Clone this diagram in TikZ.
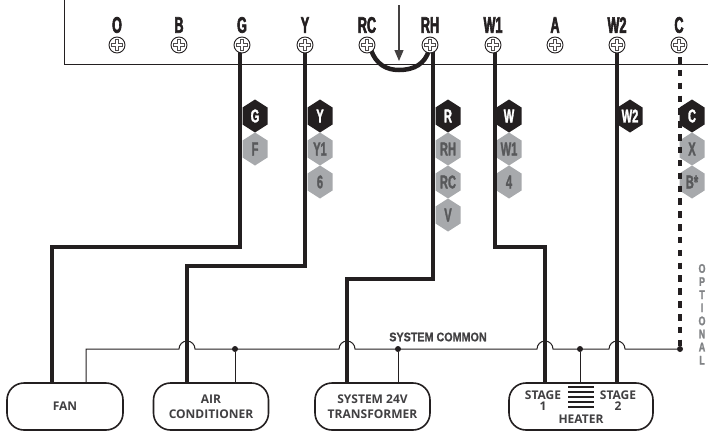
\documentclass[tikz,border=0pt]{standalone}
\usepackage{fontspec}
\usetikzlibrary{arrows.meta}
\newfontfamily\condfont[FakeStretch=0.56,FakeBold=2.5]{Liberation Sans Bold}
\newfontfamily\hexfont[FakeStretch=0.6,FakeBold=1.5]{Liberation Sans Bold}
\newfontfamily\midfont[FakeStretch=0.86,FakeBold=1]{Liberation Sans Bold}
\newfontfamily\optfont[FakeStretch=0.72,FakeBold=1.5]{Liberation Sans Bold}
\newfontfamily\boxfont{Open Sans}
\definecolor{ink}{HTML}{231F20}
\definecolor{hexgrey}{HTML}{A7A9AC}
\definecolor{hextext}{HTML}{58595B}
\definecolor{boxtext}{HTML}{414042}
\definecolor{opttext}{HTML}{808285}
\tikzset{
  x=1pt,y=-1pt,
  term/.style={font=\condfont\fontsize{22.5}{22.5}\selectfont,text=ink,inner sep=0pt},
  screw/.style={circle,draw=ink,fill=white,line width=0.9pt,minimum size=16pt,inner sep=0pt},
  wire/.style={draw=ink,line width=4pt},
  thinw/.style={draw=ink,line width=1pt},
  hexb/.style={font=\hexfont\fontsize{18.5}{18.5}\selectfont,text=white,inner sep=0pt},
  hexg/.style={font=\hexfont\fontsize{18.5}{18.5}\selectfont,text=hextext,inner sep=0pt},
  unit/.style={draw=ink,line width=1.6pt,fill=white,rounded corners=17pt,inner sep=0pt,
     align=center,text=boxtext,font=\boxfont\bfseries\fontsize{12}{15}\selectfont},
  lab/.style={text=boxtext,inner sep=0pt,font=\boxfont\bfseries\fontsize{12}{12}\selectfont},
  dotn/.style={circle,fill=ink,inner sep=0pt,minimum size=6pt},
  opt/.style={font=\optfont\fontsize{12.5}{12.5}\selectfont,text=opttext,inner sep=0pt},
}
\newcommand{\hexshape}[3]{\fill[#3] (#1,#2-16.5) -- (#1+12.5,#2-8.5) -- (#1+12.5,#2+8.5) -- (#1,#2+16.5) -- (#1-12.5,#2+8.5) -- (#1-12.5,#2-8.5) -- cycle;}
\newcommand{\termn}[3]{%
  \node[term] (t#1) at (#2,25) {#3};
  \node[screw] (s#1) at (#2,45) {};
  \draw[draw=ink!80,line width=0.5pt] (#2-1.5,45-5.5) -- (#2+1.5,45-5.5) -- (#2+1.5,45-1.5) -- (#2+5.5,45-1.5) -- (#2+5.5,45+1.5) -- (#2+1.5,45+1.5) -- (#2+1.5,45+5.5) -- (#2-1.5,45+5.5) -- (#2-1.5,45+1.5) -- (#2-5.5,45+1.5) -- (#2-5.5,45-1.5) -- (#2-1.5,45-1.5) -- cycle;}
\newcommand{\hexb}[4]{\hexshape{#2}{#3}{ink}\node[hexb] (#1) at (#2,#3) {#4};}
\newcommand{\hexg}[4]{\hexshape{#2}{#3}{hexgrey}\node[hexg] (#1) at (#2,#3) {#4};}
\begin{document}
\begin{tikzpicture}
\useasboundingbox (0,0) rectangle (708,431);
% thermostat outline
\coordinate (tl) at (64,0);
\coordinate (bl) at (64,64);
\coordinate (br) at (708,64);
\draw[draw=ink,line width=1pt] (tl) -- (bl) -- (br);
% hexagons
\hexb{hg}{255}{116}{G}
\hexg{hf}{255}{149}{F}
\hexb{hy}{320}{116}{Y}
\hexg{hya}{320}{149}{Y1}
\hexg{hsix}{320}{182}{6}
\hexb{hr}{448}{116}{R}
\hexg{hrh}{448}{149}{RH}
\hexg{hrc}{448}{182}{RC}
\hexg{hv}{448}{215}{V}
\hexb{hw}{509}{116}{W}
\hexg{hwa}{509}{149}{W1}
\hexg{hfour}{509}{182}{4}
\hexb{hwb}{630}{116}{W2}
\hexb{hc}{692}{116}{C}
\hexg{hx}{692}{149}{X}
\hexg{hbs}{692}{182}{B*}
% units
\node[unit,minimum width=116pt,minimum height=47pt] (fan) at (65,406.5) {FAN};
\node[unit,minimum width=115pt,minimum height=47pt] (ac) at (211,406.5) {AIR\\CONDITIONER};
\node[unit,minimum width=115pt,minimum height=47pt] (tr) at (372.5,406.5) {SYSTEM 24V\\TRANSFORMER};
\node[unit,minimum width=144pt,minimum height=47pt] (ht) at (581,406.5) {};
\node[lab] (st1) at (543,395) {STAGE};
\node[lab] (st1n) at (543,406) {1};
\node[lab] (st2) at (618,395) {STAGE};
\node[lab] (st2n) at (618,406) {2};
\node[lab] (htl) at (581,419) {HEATER};
\foreach \yy in {387,392,397,402,407} \draw[draw=ink,line width=1.4pt] (568,\yy) -- (594,\yy);
% common line
\node[dotn] (d1) at (235,349) {};
\node[dotn] (d2) at (398,349) {};
\node[dotn] (d3) at (580,349) {};
\node[dotn] (d4) at (680,349) {};
\draw[thinw] (86,383) -- (86,349) -- (179,349) arc[start angle=180,end angle=360,radius=8] -- (339,349)
   arc[start angle=180,end angle=360,radius=8] -- (537,349) arc[start angle=180,end angle=360,radius=8]
   -- (609,349) arc[start angle=180,end angle=360,radius=8] -- (d4);
\draw[thinw] (d1) -- (d1 |- ac.north);
\draw[thinw] (d2) -- (d2 |- tr.north);
\draw[thinw] (d3) -- (d3 |- ht.north);
% wires
\draw[wire] (240,52) -- (240,247) -- (52,247) -- (52,383);
\draw[wire] (305,52) -- (305,266) -- (187,266) -- (187,383);
\draw[wire] (433,52) -- (433,279) -- (347,279) -- (347,383);
\draw[wire] (495,52) -- (495,247) -- (545,247) -- (545,383);
\draw[wire] (617,52) -- (617,383);
\draw[wire,dash pattern=on 6.5pt off 6.35pt] (680,57) -- (680,340);
\draw[wire] (680,340) -- (d4);
\draw[wire,line width=4.5pt] (371,50) .. controls (376,64) and (386,70) .. (399,70) .. controls (414,70) and (425,64) .. (429,50);
% terminals
\termn{o}{117}{O}
\termn{b}{179}{B}
\termn{g}{242}{G}
\termn{y}{305}{Y}
\termn{rc}{367}{RC}
\termn{rh}{430}{RH}
\termn{wa}{493}{W1}
\termn{a}{555}{A}
\termn{wb}{617}{W2}
\termn{c}{679}{C}
% arrow
\coordinate (as) at (399,5);
\coordinate (ae) at (399,61);
\draw[draw=ink!85,line width=1.2pt,-{Triangle[length=11pt,width=9pt]}] (as) -- (ae);
% labels
\node[inner sep=0pt,text=boxtext,font=\midfont\fontsize{12.5}{12.5}\selectfont] (sc) at (438,337) {SYSTEM COMMON};
\foreach \ch [count=\i from 0] in {O,P,T,I,O,N,A,L} \node[opt] (op\i) at (702,{268.5+\i*13.1}) {\ch};
\end{tikzpicture}
\end{document}
